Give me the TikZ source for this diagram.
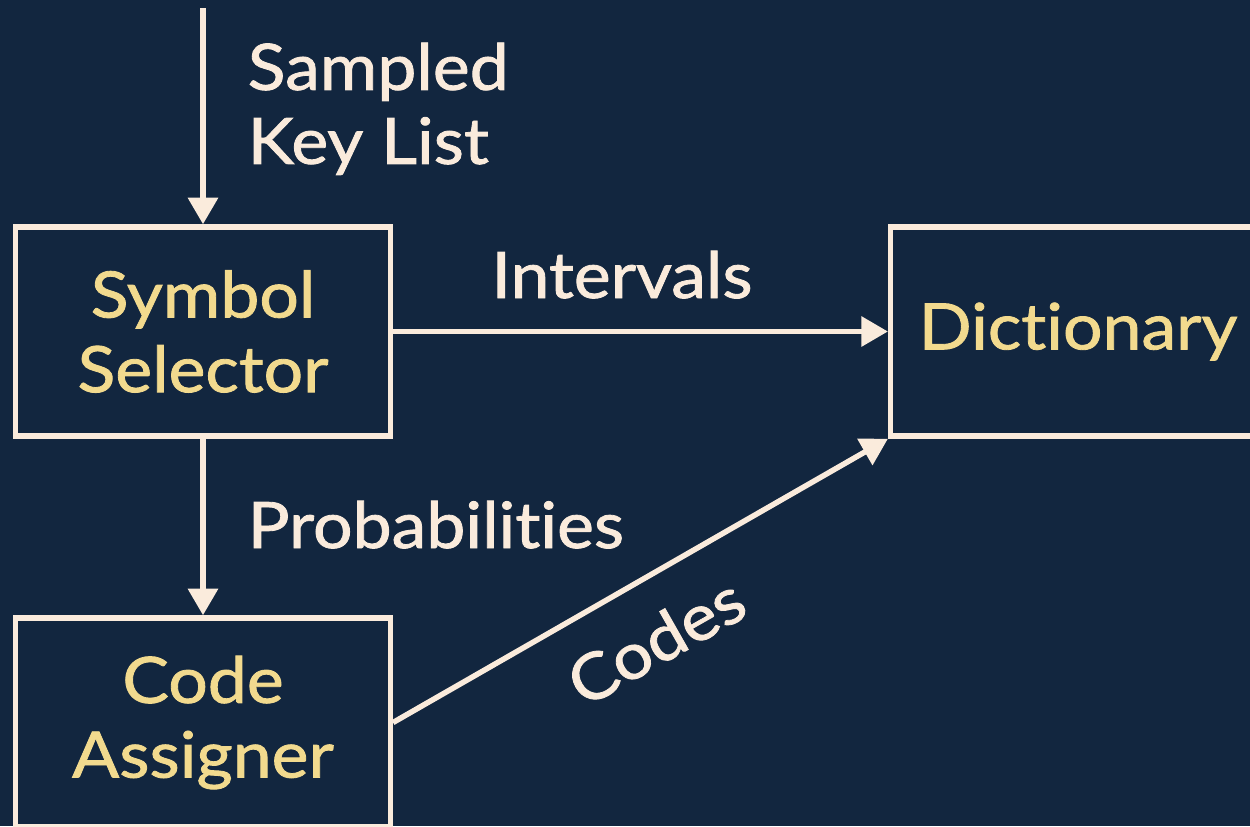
\documentclass[tikz,border=0pt]{standalone}
\usepackage{fontspec}
\setmainfont{Lato}[Ligatures=NoCommon, FakeStretch=1.09, FakeBold=1.3]
\usetikzlibrary{arrows.meta}

\definecolor{bgnavy}{HTML}{12263F}
\definecolor{cream}{HTML}{FAEBDC}
\definecolor{gold}{HTML}{F2DA8E}

\tikzset{every picture/.style={line width=4.1pt}}
\tikzset{
  blockbox/.style={draw=cream, line width=4.1pt, minimum width=281pt, minimum height=156.75pt,
    inner sep=0pt, align=center, text=gold, font=\fontsize{48}{56}\selectfont},
  flowlbl/.style={text=cream, inner sep=0pt, font=\fontsize{48}{55.5}\selectfont},
  flow/.style={draw=cream, -{Triangle[width=22pt,length=20pt]}}
}

\begin{document}
\begin{tikzpicture}[x=0.75pt,y=0.75pt,yscale=-1,xscale=1]
    %set diagram to 1250 x 826
    \useasboundingbox (0,0) rectangle (1250,826);
    \fill[bgnavy] (0,0) rectangle (1250,826);

    %Blocks
    \node[blockbox] (sel) at (203,331.5) {Symbol\\Selector};
    \node[blockbox] (dict) at (1078,331.5) {Dictionary};
    \node[blockbox] (asg) at (203,722.5) {Code\\Assigner};
    \coordinate (keyin) at (203,8);

    %Connectors
    \draw[flow] (keyin) -- (sel.north);
    \draw[flow] (sel.east) -- (dict.west);
    \draw[flow] (sel.south) -- (asg.north);
    \draw[flow] (asg.east) -- (dict.south west);

    %Labels
    \node[flowlbl, anchor=north west, align=left] (keys) at (245,40) {Sampled\\Key List};
    \node[flowlbl, anchor=base] (ivl) at (622,298) {Intervals};
    \node[flowlbl, anchor=base west] (prob) at (245,548) {Probabilities};
    \node[flowlbl, rotate=29.6] (cds) at (656,641) {Codes};

\end{tikzpicture}
\end{document}
